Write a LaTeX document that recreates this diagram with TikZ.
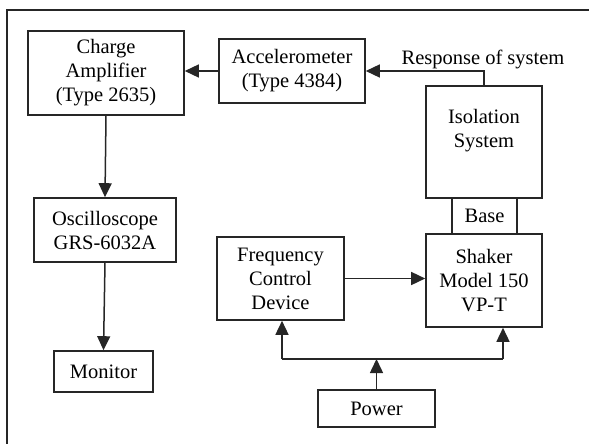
\documentclass[tikz,border=0pt]{standalone}
\usepackage{fontspec}
\setmainfont{Liberation Serif}
\usetikzlibrary{arrows.meta}
\begin{document}
\begin{tikzpicture}[x=1pt,y=-1pt,
  box/.style={draw=black!85,line width=1.6pt,rectangle,inner sep=0pt,align=center,font=\fontsize{20.5}{24}\selectfont},
  lbl/.style={inner sep=0pt,align=center,font=\fontsize{20.5}{24}\selectfont},
  conn/.style={draw=black!85,line width=1.5pt},
  arr/.style={conn,-{Triangle[length=14pt,width=13pt]}}]
\useasboundingbox (0,0) rectangle (589,444);
\draw[black!85,line width=2.2pt] (7,460) -- (7,10) -- (600,10);
\node[box,minimum width=156pt,minimum height=84pt] (charge) at (106,73) {Charge\\Amplifier\\(Type 2635)};
\node[box,minimum width=146pt,minimum height=64pt] (accel) at (292,71) {Accelerometer\\(Type 4384)};
\node[box,minimum width=116pt,minimum height=112pt] (iso) at (484,142) {};
\node[lbl] (isotext) at (484,131) {Isolation\\System};
\node[box,minimum width=65pt,minimum height=36pt] (base) at (484.5,216) {Base};
\node[box,minimum width=116pt,minimum height=93pt] (shaker) at (484,280.5) {Shaker\\Model 150\\VP-T};
\node[box,minimum width=127pt,minimum height=83pt] (fcd) at (280.5,278.5) {Frequency\\Control\\Device};
\node[box,minimum width=117pt,minimum height=37pt] (power) at (376.5,408.5) {Power};
\node[box,minimum width=142pt,minimum height=64pt] (osc) at (105,230) {Oscilloscope\\GRS-6032A};
\node[box,minimum width=99pt,minimum height=41pt] (mon) at (103.5,371.5) {Monitor};
\node[lbl,anchor=base] (resp) at (483,64) {Response of system};
\draw[arr] (accel.west) -- (accel.west -| charge.east);
\draw[arr] (iso.north) |- (accel.east);
\draw[arr] (charge.south) -- (osc.north);
\draw[arr] (osc.south) -- (mon.north);
\draw[arr] (fcd.east) -- (fcd.east -| shaker.west);
\coordinate (pl) at (282,359);
\coordinate (pr) at (503,359);
\draw[conn] (pl) -- (pr);
\draw[arr] (pl) -- (pl |- fcd.south);
\draw[arr] (pr) -- (pr |- shaker.south);
\draw[arr] (power.north) -- (power.north |- pl);
\end{tikzpicture}
\end{document}
